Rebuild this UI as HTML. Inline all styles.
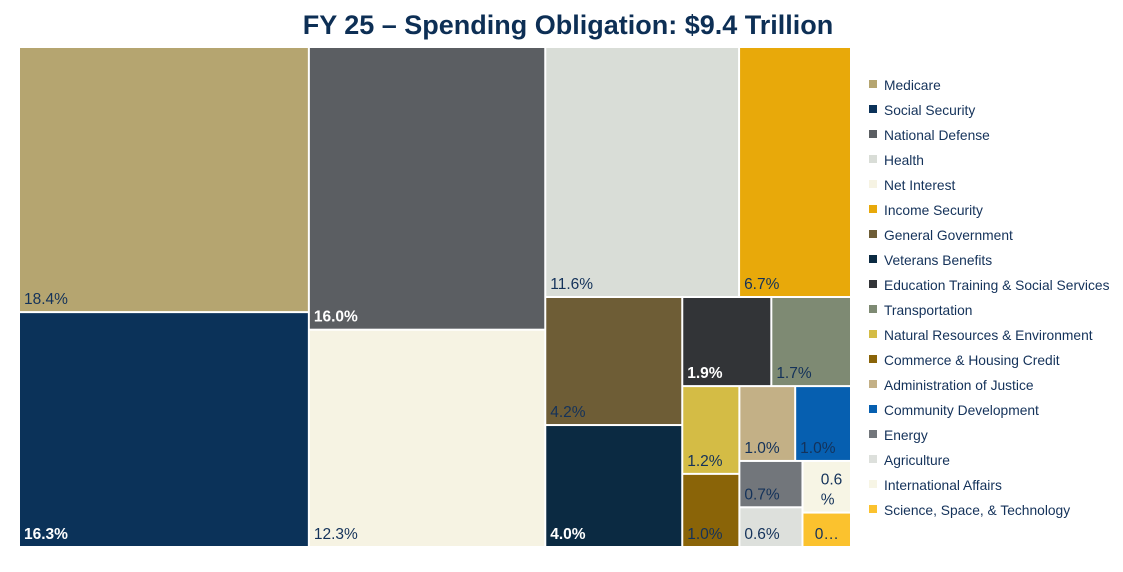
<!DOCTYPE html>
<html><head><meta charset="utf-8">
<style>
body{margin:0;background:#fff;width:1123px;height:567px;overflow:hidden;font-family:"Liberation Sans",sans-serif;}
</style></head>
<body>
<svg id="chart" width="1123" height="567">
<text x="568" y="34" text-anchor="middle" font-family="Liberation Sans, sans-serif" font-size="27" font-weight="bold" fill="#0d2f55">FY 25 – Spending Obligation: $9.4 Trillion</text>
<g id="cells"></g>
<g id="legend"></g>
</svg>
<script>
const categories = ["Medicare","Social Security","National Defense","Health","Net Interest","Income Security","General Government","Veterans Benefits","Education Training & Social Services","Transportation","Natural Resources & Environment","Commerce & Housing Credit","Administration of Justice","Community Development","Energy","Agriculture","International Affairs","Science, Space, & Technology"];
const values = [18.4,16.3,16.0,11.6,12.3,6.7,4.2,4.0,1.9,1.7,1.2,1.0,1.0,1.0,0.7,0.6,0.6,0.4];
const labels = ["18.4%","16.3%","16.0%","11.6%","12.3%","6.7%","4.2%","4.0%","1.9%","1.7%","1.2%","1.0%","1.0%","1.0%","0.7%","0.6%","0.6\n%","0…"];
const colors = ["#b5a570","#0b3259","#5b5e62","#d9ddd7","#f6f3e3","#e8a90a","#6e5d36","#0b2a42","#323437","#7e8a73","#d4bc45","#8a6408","#c3b086","#065fb0","#72767b","#dde0dc","#f7f5e5","#fbc22e"];
const textColors = ["#14325a","#fff","#fff","#14325a","#14325a","#14325a","#14325a","#fff","#fff","#14325a","#14325a","#14325a","#14325a","#14325a","#14325a","#14325a","#14325a","#14325a"];
const bold = [0,1,1,0,0,0,0,1,1,0,0,0,0,0,0,0,0,0];
// split tree: 'h' = side-by-side, 'v' = stacked; leaves are category indices
const tree = ['h',[['v',[0,1]],['v',[2,4]],['v',[['h',[3,5]],['h',[['v',[6,7]],['v',[['h',[8,9]],['h',[['v',[10,11]],['v',[['h',[12,13]],['h',[['v',[14,15]],['v',[16,17]]]]]]]]]]]]]]]];
const area = {x:19, y:47, w:832, h:500};
const NS = "http://www.w3.org/2000/svg";
function sum(n){return typeof n==='number'?values[n]:n[1].reduce((a,c)=>a+sum(c),0);}
const cellsG = document.getElementById('cells');
function layout(n,x,y,w,h){
  if(typeof n==='number'){drawCell(n,x,y,w,h);return;}
  const tot=sum(n); let off=0;
  n[1].forEach(c=>{
    const f=sum(c)/tot;
    if(n[0]==='h'){layout(c,x+off,y,w*f,h);off+=w*f;}
    else{layout(c,x,y+off,w,h*f);off+=h*f;}
  });
}
function drawCell(i,x,y,w,h){
  const r=document.createElementNS(NS,'rect');
  r.setAttribute('x',x+1);r.setAttribute('y',y+1);
  r.setAttribute('width',Math.max(0,w-2));r.setAttribute('height',Math.max(0,h-2));
  r.setAttribute('fill',colors[i]);
  
  
  cellsG.appendChild(r);
  const lines=labels[i].split('\n');
  lines.forEach((ln,k)=>{
    const t=document.createElementNS(NS,'text');
    const lx = lines.length>1 ? x+w/2-6 : (labels[i]==="0…"? x+w/2-12 : x+5);
    t.setAttribute('x',lx);
    t.setAttribute('y',y+h-8-(lines.length-1-k)*20);
    t.setAttribute('font-size','15.5');
    if(bold[i])t.setAttribute('font-weight','bold');
    t.setAttribute('fill',textColors[i]);
    t.textContent=ln;
    
    
    cellsG.appendChild(t);
  });
}
layout(tree,area.x,area.y,area.w,area.h);
const legG=document.getElementById('legend');
categories.forEach((c,i)=>{
  const y=85+i*25;
  const s=document.createElementNS(NS,'rect');
  s.setAttribute('x',869);s.setAttribute('y',y-5);s.setAttribute('width',8);s.setAttribute('height',8);
  s.setAttribute('fill',colors[i]);
  
  
  legG.appendChild(s);
  const t=document.createElementNS(NS,'text');
  t.setAttribute('x',884);t.setAttribute('y',y+5);
  t.setAttribute('font-size','13.8');t.setAttribute('fill','#14325a');
  t.textContent=c;
  
  
  legG.appendChild(t);
});
</script>
</body></html>
